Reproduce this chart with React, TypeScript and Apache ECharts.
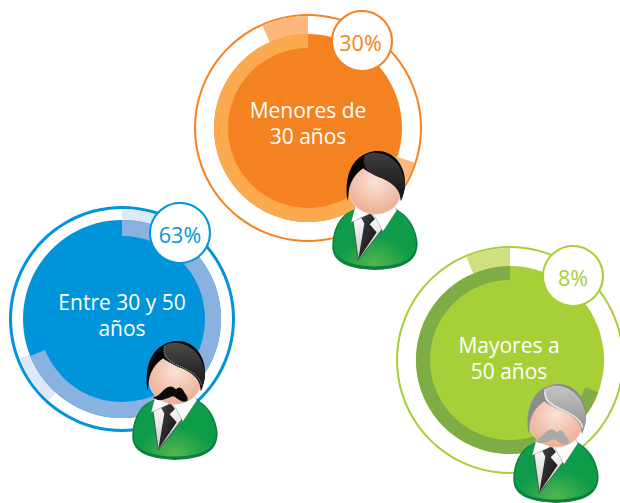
import React, { useEffect, useRef } from "react";
import * as echarts from "echarts";

// Percentages and captions
const titles = [["Menores de", "30 años"], ["Entre 30 y 50", "años"], ["Mayores a", "50 años"]];
const percents = ["30%", "63%", "8%"];

// Arcs, in degrees clockwise from twelve o'clock
const orangeRing = [108, 252];
const orangeBand = [108, 20, 208, 24];
const blueRing = [248, 112];
const blueBand = [24, 198, 27, 111];
const greenRing = [110, 250];
const greenBand = [337, 23];

const BODY = "M85,195 C55,205 22,240 22,305 C22,348 60,372 150,375 C240,372 278,348 278,295 C272,235 240,205 205,188 Z";
const BODY_IN = "M85,197 C58,208 27,242 27,303 C27,340 62,362 150,365 C238,362 273,340 273,295 C267,238 238,208 205,190 Z";
const SHIRT = "M84,226 L100,346 L172,252 L148,204 Z";
const TIE = "M108,217 L138,206 L150,222 L134,238 L155,262 L100,344 L118,236 Z";
const COLLAR_L = "M92,180 L78,233 L132,208 L112,190 Z";
const COLLAR_R = "M205,178 L216,196 L174,260 L146,208 L180,192 Z";
const HAIR = "M68,168 C58,110 70,30 150,18 C215,14 246,75 240,125 C238,140 234,152 228,168 C226,135 210,118 172,100 C150,90 128,82 115,70 C92,85 76,110 72,135 Z";
const HAIR_HI = "M118,32 C150,8 238,30 240,125 C238,140 234,152 228,168 C226,135 210,118 172,100 C140,88 110,76 118,32 Z";
const HAIR_LINE = "M118,34 C112,62 128,78 170,96 C205,112 224,125 230,150";
const MOUSTACHE = "M84,186 C104,190 116,155 136,155 C144,155 150,160 153,164 C160,154 170,156 176,168 C182,180 192,186 187,198 C170,206 158,190 146,184 C130,186 104,208 84,186 Z";

function registerShapes() {
  const shapes: Record<string, string> = {
    pBody: BODY, pBodyIn: BODY_IN, pShirt: SHIRT, pTie: TIE, pCollarL: COLLAR_L, pCollarR: COLLAR_R,
    pHair: HAIR, pHairHi: HAIR_HI, pHairLine: HAIR_LINE, pMoustache: MOUSTACHE,
  };
  Object.keys(shapes).forEach((k) => echarts.graphic.registerShape(k, echarts.graphic.extendPath(shapes[k], {}) as any));
}

const linear = (a: string, b: string, x2 = 0, y2 = 1) => ({ type: "linear", x: 0, y: 0, x2, y2, colorStops: [{ offset: 0, color: a }, { offset: 1, color: b }] });
const radial = (cx: number, cy: number, r: number, a: string, b: string) => ({ type: "radial", x: cx, y: cy, r, colorStops: [{ offset: 0, color: a }, { offset: 1, color: b }] });

function person(x: number, y: number, kind: "plain" | "moustache" | "grey") {
  const grey = kind === "grey";
  const kids: any[] = [
    { type: "pBody", style: { fill: "#0a7f40" } },
    { type: "pBodyIn", style: { fill: radial(0.5, 0.95, 0.45, "#55b54d", "#0e9c4a") } },
    { type: "pShirt", style: { fill: linear("#ffffff", "#c9c9c9"), stroke: "#333", lineWidth: 2 } },
    { type: "pTie", style: { fill: linear("#444444", "#0c0c0c", 1, 1) } },
    { type: "pCollarL", style: { fill: "#ffffff", stroke: "#555", lineWidth: 1 } },
    { type: "pCollarR", style: { fill: "#ffffff", stroke: "#555", lineWidth: 1 } },
    { type: "ellipse", shape: { cx: 151, cy: 132, rx: 80, ry: 76 }, style: { fill: radial(0.5, 0.35, 0.7, "#fbe3d6", "#eba88e"), stroke: "#f3dcd0", lineWidth: 2 } },
    { type: "pHair", style: { fill: grey ? "#8c8c8c" : "#050505" } },
    { type: "pHairHi", style: { fill: grey ? linear("#c4c4c4", "#8e8e8e") : linear(kind === "moustache" ? "#4a4a4a" : "#3e3e3e", "#111111") } },
  ];
  if (kind === "moustache") kids.push({ type: "pHairLine", style: { fill: "none", stroke: "#c8c8c8", lineWidth: 2, lineDash: [4, 3] } });
  if (grey) kids.push({ type: "pHairLine", style: { fill: "none", stroke: "#e4e4e4", lineWidth: 5 } });
  if (kind !== "plain") kids.push({ type: "pMoustache", style: { fill: grey ? "#a9a9a9" : "#0a0a0a" } });
  kids.forEach((k) => { k.z = 10; k.silent = true; });
  return { type: "group", x, y, scaleX: 1 / 3, scaleY: 1 / 3, z: 10, silent: true, children: kids };
}

function pie(center: number[], radius: number[], values: number[], colors: string[], z: number) {
  return {
    type: "pie", center, radius, startAngle: 90, clockwise: true, z, silent: true, animation: false,
    label: { show: false }, labelLine: { show: false }, emphasis: { disabled: true }, minAngle: 0,
    data: values.map((value, i) => ({ value, itemStyle: { color: colors[i % colors.length], borderWidth: 0 } })),
  };
}

function caption(lines: string[], cx: number, ys: number[]) {
  return lines.map((text, i) => ({
    type: "text", x: cx, y: ys[i], z: 5, silent: true,
    style: { text, fill: "#fff", font: `21px "Open Sans"`, align: "center", verticalAlign: "middle" },
  }));
}

function bubble(cx: number, cy: number, tx: number, text: string, color: string) {
  return [
    { type: "circle", z: 6, silent: true, shape: { cx, cy, r: 30 }, style: { fill: "#fff", stroke: color, lineWidth: 2 } },
    { type: "text", x: tx, y: cy + 1, z: 7, silent: true, style: { text, fill: color, font: `21.5px "Open Sans"`, align: "center", verticalAlign: "middle" } },
  ];
}

export default function App() {
  const ref = useRef<HTMLDivElement>(null);
  useEffect(() => {
    registerShapes();
    const chart = echarts.init(ref.current!, undefined, { renderer: "svg" });
    const oc = [308, 128], bc = [122, 319], gc = [510, 360];
    const T = "transparent";
    chart.setOption({
      animation: false,
      backgroundColor: "#fff",
      series: [
        pie(oc, [112, 114], [1], ["#f58220"], 1),
        pie(oc, [94, 112], orangeBand, [T, "#fdb77c", T, "#fdb77c"], 2),
        pie(oc, [0, 94], [1], ["#f58220"], 3),
        pie(oc, [80, 94], orangeRing, [T, "#fbaa4f"], 4),

        pie(bc, [110, 113], [1], ["#0095da"], 1),
        pie(bc, [99, 110], blueBand, ["#dde9f8", T, "#dde9f8", T], 2),
        pie(bc, [0, 99], [1], ["#0095da"], 3),
        pie(bc, [83, 99], blueRing, ["#8ab2e0", T], 4),

        pie(gc, [112, 114], [1], ["#a7cf38"], 1),
        pie(gc, [94, 112], greenBand, [T, "#cfe17e"], 2),
        pie(gc, [0, 94], [1], ["#a7cf38"], 3),
        pie(gc, [80, 94], greenRing, [T, "#7fad45"], 4),
      ],
      graphic: {
        elements: [
          ...caption(titles[0], 308, [110, 136]),
          ...caption(titles[1], 122, [302, 328]),
          ...caption(titles[2], 509, [345, 371]),
          ...bubble(362, 41, 360.5, percents[0], "#f58220"),
          ...bubble(180, 233, 180, percents[1], "#0095da"),
          ...bubble(573, 276, 573, percents[2], "#a7cf38"),
          person(325, 145, "plain"),
          person(125, 335, "moustache"),
          person(506, 378, "grey"),
        ],
      },
    });
    return () => chart.dispose();
  }, []);
  return <div ref={ref} style={{ position: "fixed", left: 0, top: 0, width: 620, height: 503 }} />;
}
